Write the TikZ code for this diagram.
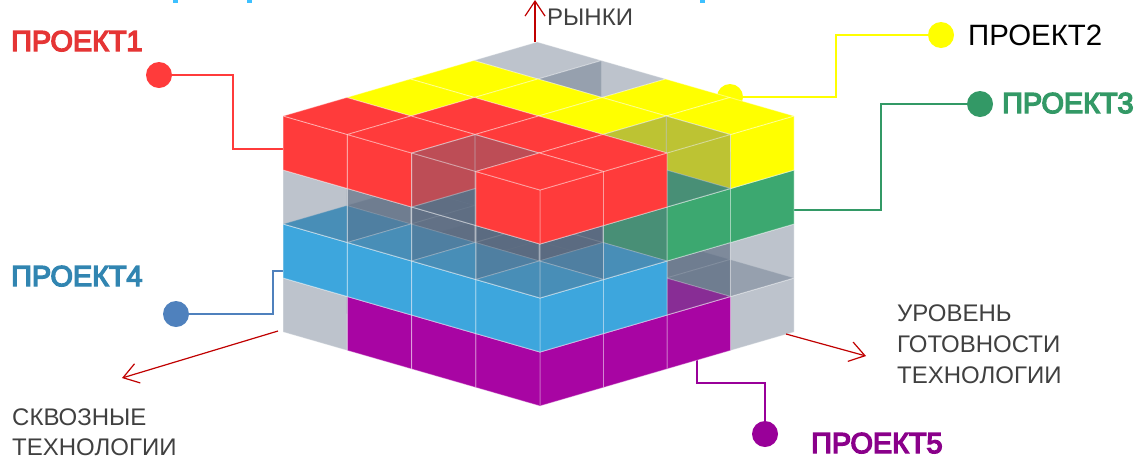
\documentclass[tikz,border=0pt]{standalone}
\usepackage{fontspec}
\usetikzlibrary{arrows.meta}
\setmainfont{Liberation Sans}
\newfontfamily\halofont[FakeBold=5]{Liberation Sans}
\definecolor{cred}{HTML}{FF3B3B}
\definecolor{cyel}{HTML}{FFFF00}
\definecolor{cgrn}{HTML}{3CA870}
\definecolor{cblu}{HTML}{3DA6DD}
\definecolor{cpur}{HTML}{A805A3}
\definecolor{cglass}{HTML}{5A6A80}
\definecolor{ldred}{HTML}{FF3B3B}
\definecolor{ldblu}{HTML}{4F81BD}
\definecolor{ldgrn}{HTML}{339966}
\definecolor{ldpur}{HTML}{990099}
\definecolor{arrowred}{HTML}{C00000}
\definecolor{txtgrey}{HTML}{404040}
\definecolor{topfrag}{HTML}{3DC0FF}
\newcommand{\setvox}[2]{\expandafter\def\csname vc#1\endcsname{#2}}
\setvox{003}{cred}\setvox{013}{cred}\setvox{113}{cred}\setvox{203}{cred}\setvox{213}{cred}\setvox{303}{cred}
\setvox{033}{cyel}\setvox{123}{cyel}\setvox{133}{cyel}\setvox{223}{cyel}\setvox{313}{cyel}\setvox{323}{cyel}
\setvox{022}{cgrn}\setvox{032}{cgrn}
\setvox{001}{cblu}\setvox{101}{cblu}\setvox{201}{cblu}\setvox{301}{cblu}\setvox{011}{cblu}
\setvox{000}{cpur}\setvox{100}{cpur}\setvox{200}{cpur}\setvox{010}{cpur}\setvox{020}{cpur}
\tikzset{
  face/.style={fill=\fcol,fill opacity=\fop,draw=white,draw opacity=\dop,line width=.9pt,line join=round},
  dot/.style={circle,minimum size=26pt,inner sep=0pt,draw=none},
  leader/.style={line width=1.7pt},
  axis/.style={draw=arrowred,line width=1.2pt,-{Straight Barb[length=15pt,width=20pt,line width=1.2pt]}},
  axislabel/.style={text=txtgrey,inner sep=0pt,align=left},
  project/.style={inner sep=0pt,anchor=base west,font=\halofont\fontsize{28.8}{30}\selectfont}
}
\begin{document}
\begin{tikzpicture}[x=1pt,y=-1pt]
\useasboundingbox (0,0) rectangle (1139,459);
\clip (0,0) rectangle (1139,459);
% cropped fragments at the top edge
\fill[topfrag] (173,0) rectangle (178,3);
\fill[topfrag] (247,0) rectangle (252,3);
\fill[topfrag] (700,0) rectangle (705,3);

% dots
\node[dot,fill=ldred] (d1) at (159,75) {};
\node[dot,fill=cyel] (d2a) at (941,35) {};
\node[dot,fill=cyel] (d2b) at (730,97) {};
\node[dot,fill=ldgrn] (d3) at (980,104) {};
\node[dot,fill=ldblu] (d4) at (176,314) {};
\node[dot,fill=ldpur] (d5) at (765,434) {};
\coordinate (e1) at (283,149);
\coordinate (e3) at (794,210);
\coordinate (e4) at (283,271);
\coordinate (e5) at (697,360);
% leaders
\draw[leader,draw=ldred] (d1) -- (233,75) -- (233,149) -- (e1);
\draw[leader,draw=cyel] (d2b) -- (836,97) -- (836,35) -- (d2a);
\draw[leader,draw=ldgrn] (d3) -- (881,104) -- (881,210) -- (e3);
\draw[leader,draw=ldblu] (d4) -- (273,314) -- (273,271) -- (e4);
\draw[leader,draw=ldpur] (d5) -- (765,383) -- (697,383) -- (e5);

% cube stack
\begin{scope}[shift={(540,406)},x={(-64.2pt,18.5pt)},y={(63.5pt,18.5pt)},z={(0pt,54pt)}]
\foreach \i in {3,2,1,0}{
 \foreach \j in {3,2,1,0}{
  \foreach \k in {0,1,2,3}{
   \pgfmathtruncatemacro\ii{\i+1}
   \pgfmathtruncatemacro\jj{\j+1}
   \pgfmathtruncatemacro\kk{\k+1}
   \ifcsname vc\i\j\k\endcsname
     \edef\fcol{\csname vc\i\j\k\endcsname}\def\fop{1}\def\dop{.4}
   \else
     \def\fcol{cglass}\def\fop{.4}\def\dop{.3}
   \fi
   \path[face] (\i,\j,\k) -- (\i,\jj,\k) -- (\i,\jj,\kk) -- (\i,\j,\kk) -- cycle;
   \path[face] (\i,\j,\k) -- (\ii,\j,\k) -- (\ii,\j,\kk) -- (\i,\j,\kk) -- cycle;
   \path[face] (\i,\j,\kk) -- (\ii,\j,\kk) -- (\ii,\jj,\kk) -- (\i,\jj,\kk) -- cycle;
  }
 }
}
\end{scope}

% axes
\coordinate (a1s) at (535,42); \coordinate (a1e) at (535,0);
\coordinate (a2s) at (278,331); \coordinate (a2e) at (122,378);
\coordinate (a3s) at (786,334); \coordinate (a3e) at (866,356);
\draw[axis] (a1s) -- (a1e);
\draw[axis] (a2s) -- (a2e);
\draw[axis] (a3s) -- (a3e);

% labels
\node[project,text=ldred!90!black] (p1) at (11,51) {ПРОЕКТ1};
\node[inner sep=0pt,anchor=base west,font=\fontsize{29.4}{30}\selectfont,text=black] (p2) at (968,45) {ПРОЕКТ2};
\node[project,text=ldgrn] (p3) at (1002,113) {ПРОЕКТ3};
\node[project,text=cblu!80!black] (p4) at (11,286) {ПРОЕКТ4};
\node[project,text=ldpur!90!black] (p5) at (811,453) {ПРОЕКТ5};
\node[axislabel,anchor=base west,font=\fontsize{24}{31}\selectfont] (l1) at (547,25) {РЫНКИ};
\node[axislabel,anchor=north west,font=\fontsize{24}{31}\selectfont] (l2) at (897,305) {УРОВЕНЬ\\ГОТОВНОСТИ\\ТЕХНОЛОГИИ};
\node[axislabel,anchor=north west,font=\fontsize{24}{30}\selectfont] (l3) at (12,409) {СКВОЗНЫЕ\\ТЕХНОЛОГИИ};
\end{tikzpicture}
\end{document}
